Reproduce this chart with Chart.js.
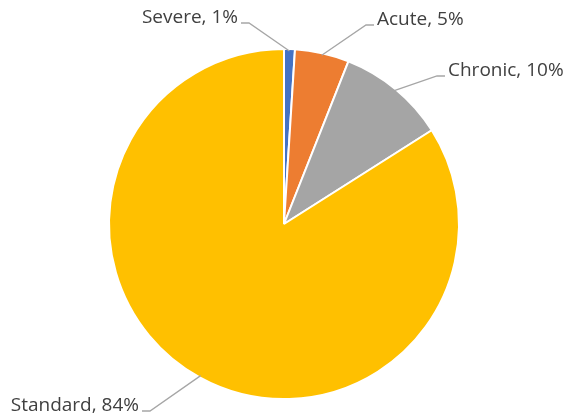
<!DOCTYPE html>
<html>
<head>
<meta charset="utf-8">
<script src="https://cdn.jsdelivr.net/npm/chart.js@4"></script>
<style>
  html, body { margin: 0; padding: 0; background: #fff; }
  #wrap { width: 571px; height: 419px; }
</style>
</head>
<body>
<div id="wrap"><canvas id="pieChart" width="571" height="419"></canvas></div>
<script>
const categories = ['Severe', 'Acute', 'Chronic', 'Standard'];
const shares = [1, 5, 10, 84];
const colors = ['#4472C4', '#ED7D31', '#A5A5A5', '#FFC000'];

// where each label text sits and which side of it the leader attaches
const labelSpots = [
  { x: 238, y: 18, align: 'right' },
  { x: 377, y: 20, align: 'left' },
  { x: 448, y: 71, align: 'left' },
  { x: 139, y: 406, align: 'right' }
];

const leaderLabels = {
  id: 'leaderLabels',
  afterDatasetsDraw(chart) {
    const c = chart.ctx;
    const arcs = chart.getDatasetMeta(0).data;
    c.save();
    c.font = '19px "Open Sans", sans-serif';
    c.textBaseline = 'middle';
    arcs.forEach((arc, i) => {
      const p = arc.getProps(['x', 'y', 'startAngle', 'endAngle', 'outerRadius'], true);
      const mid = (p.startAngle + p.endAngle) / 2;
      const ax = p.x + Math.cos(mid) * (p.outerRadius - 2);
      const ay = p.y + Math.sin(mid) * (p.outerRadius - 2);
      const spot = labelSpots[i];
      const text = categories[i] + ', ' + shares[i] + '%';
      const dir = spot.align === 'right' ? 1 : -1;
      const ex = spot.x + dir * 3;
      const ly = spot.y + 5;
      const kx = ex + dir * 8;

      c.strokeStyle = '#A6A6A6';
      c.lineWidth = 1.3;
      c.beginPath();
      c.moveTo(ex, ly);
      c.lineTo(kx, ly);
      c.lineTo(ax, ay);
      c.stroke();

      c.fillStyle = '#404040';
      c.textAlign = spot.align;
      c.fillText(text, spot.x, spot.y);
    });
    c.restore();
  }
};

const ctx = document.getElementById('pieChart').getContext('2d');
const pieChart = new Chart(ctx, {
  type: 'pie',
  data: {
    labels: categories,
    datasets: [{
      data: shares,
      backgroundColor: colors,
      borderColor: '#ffffff',
      borderWidth: 2
    }]
  },
  options: {
    responsive: false,
    animation: false,
    layout: { padding: { top: 48, bottom: 19, left: 0, right: 3 } },
    plugins: {
      legend: { display: false },
      tooltip: { enabled: false }
    }
  },
  plugins: [leaderLabels]
});
</script>
</body>
</html>
